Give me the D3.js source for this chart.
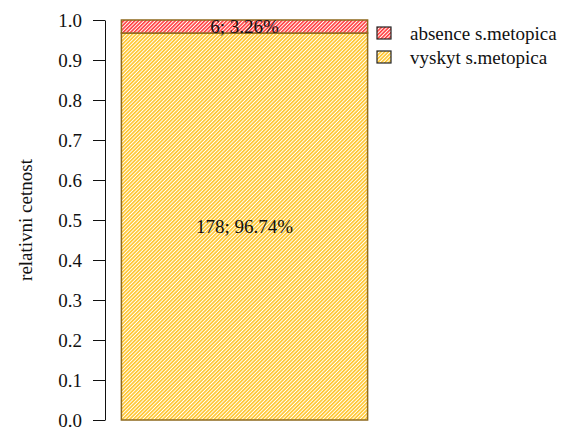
<!DOCTYPE html>
<html>
<head>
<meta charset="utf-8">
<script src="https://cdn.jsdelivr.net/npm/d3@7"></script>
</head>
<body style="margin:0">
<script>
// Stacked proportions of one group: absence vs. presence of s.metopica
const categories = ["absence s.metopica", "vyskyt s.metopica"];
const counts = [6, 178];
const yTicks = [0, 0.1, 0.2, 0.3, 0.4, 0.5, 0.6, 0.7, 0.8, 0.9, 1.0];
const yLabel = "relativni cetnost";

const colors = { stripe: ["#FF3E3E", "#FFC52A"], border: "#8E6A1E" };
const FONT = "'Liberation Serif'";
const FS = 19;

const W = 573, H = 427;
const svg = d3.select("body").append("svg").attr("width", W).attr("height", H)
  .style("display", "block");

const total = d3.sum(counts);
const shares = counts.map(c => c / total);

// Hatched fills: diagonal coloured stripes on white
const defs = svg.append("defs");
categories.forEach((c, i) => {
  const p = defs.append("pattern")
    .attr("id", "hatch" + i)
    .attr("patternUnits", "userSpaceOnUse")
    .attr("width", 2.6).attr("height", 2.6)
    .attr("patternTransform", "rotate(45)");
  p.append("rect").attr("width", 2.6).attr("height", 2.6).attr("fill", "#fff");
  p.append("rect").attr("width", 1.6).attr("height", 2.6).attr("fill", colors.stripe[i]);
});

const y = d3.scaleLinear().domain([0, 1]).range([420, 20]);
const x = d3.scaleBand().domain(["all"]).range([114, 375]).paddingInner(0).paddingOuter(0.03);

function serif(sel) {
  return sel.style("font-family", FONT).style("font-size", FS + "px").attr("fill", "#111");
}

// y axis
const axis = svg.append("g")
  .attr("transform", "translate(105,0)")
  .call(d3.axisLeft(y).tickValues(yTicks).tickFormat(d3.format(".1f"))
    .tickSize(12).tickSizeOuter(0).tickPadding(11));
axis.attr("font-family", null).attr("font-size", null);
axis.select(".domain").attr("stroke", "#111").attr("stroke-width", 1);
axis.selectAll(".tick line").attr("stroke", "#111").attr("stroke-width", 1);
axis.selectAll(".tick text").call(serif).attr("dy", "0.34em");

svg.append("text")
  .attr("transform", `translate(32,${(y(0) + y(1)) / 2}) rotate(-90)`)
  .attr("text-anchor", "middle")
  .call(serif)
  .text(yLabel);

// stacked segments: first category on top
const stackOrder = [1, 0];
let acc = 0;
const segs = stackOrder.map(i => {
  const s = { i, y0: acc, y1: acc + shares[i] };
  acc += shares[i];
  return s;
});

const bx = x("all"), bw = x.bandwidth();
svg.append("g").selectAll("rect").data(segs).join("rect")
  .attr("x", bx)
  .attr("y", d => y(d.y1))
  .attr("width", bw)
  .attr("height", d => y(d.y0) - y(d.y1))
  .attr("fill", d => `url(#hatch${d.i})`)
  .attr("stroke", colors.border)
  .attr("stroke-width", 1.5);

svg.append("g").selectAll("text").data(segs).join("text")
  .attr("x", bx + bw / 2)
  .attr("y", d => (y(d.y0) + y(d.y1)) / 2)
  .attr("dy", "0.35em")
  .attr("text-anchor", "middle")
  .call(serif)
  .text(d => `${counts[d.i]}; ${(shares[d.i] * 100).toFixed(2)}%`);

// legend
const lg = svg.append("g").attr("transform", "translate(377,27)");
const items = lg.selectAll("g").data(categories).join("g")
  .attr("transform", (d, i) => `translate(0,${i * 24})`);
items.append("rect")
  .attr("width", 14).attr("height", 12)
  .attr("fill", (d, i) => `url(#hatch${i})`)
  .attr("stroke", "#222").attr("stroke-width", 1.2);
items.append("text")
  .attr("x", 33).attr("y", 6).attr("dy", "0.35em")
  .call(serif)
  .text(d => d);
</script>
</body>
</html>
